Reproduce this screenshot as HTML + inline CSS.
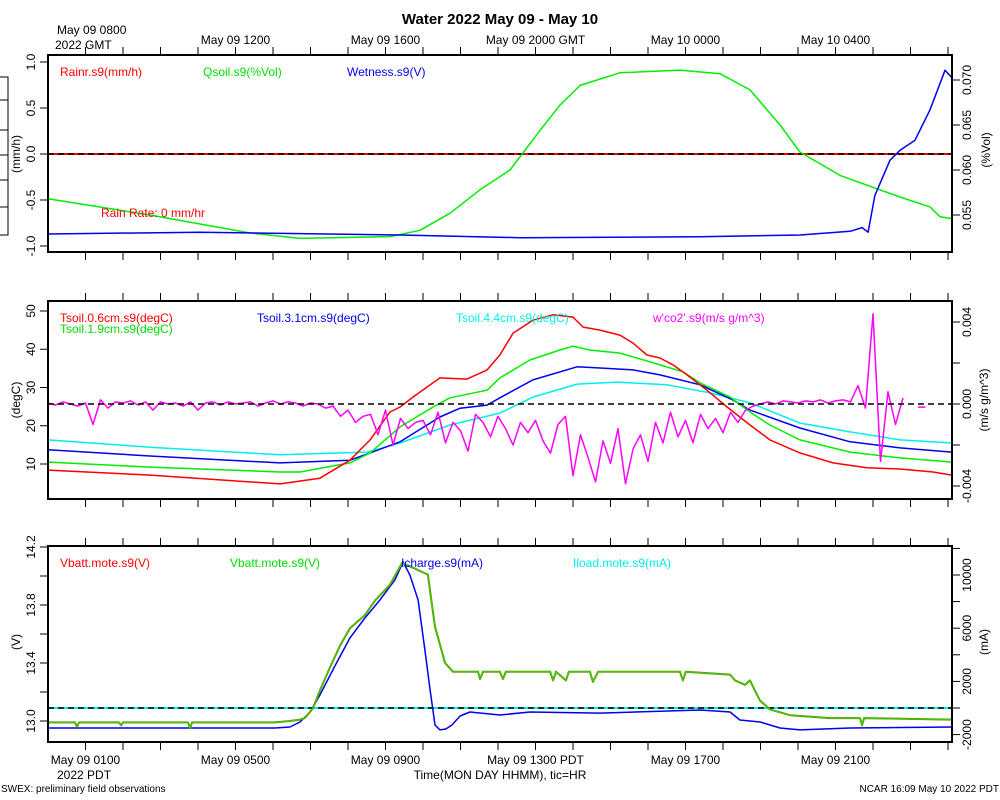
<!DOCTYPE html>
<html><head><meta charset="utf-8"><style>
body{margin:0;background:#fff;}
svg{display:block;font-family:"Liberation Sans",sans-serif;}
</style></head><body>
<svg id="chart" width="1000" height="800" viewBox="0 0 1000 800" xmlns="http://www.w3.org/2000/svg"></svg>
<script>
// ---- data (time in hours PDT since May 09 0000) ----
const qsoilT=[0,2.72,5.39,6.72,9.12,9.92,10.72,11.52,12.32,13.12,13.65,14.19,15.25,16.85,17.92,18.72,19.52,20.05,21.12,22.72,23.52,23.79,24.1];
const qsoilV=[0.0568,0.0550,0.0530,0.0524,0.0526,0.0533,0.0552,0.0578,0.0600,0.0644,0.0672,0.0694,0.0708,0.0711,0.0707,0.0689,0.0650,0.0620,0.0594,0.0570,0.0559,0.0548,0.0546];
const wetT=[0,4.05,9.39,12.59,17.39,20.05,21.39,21.71,21.87,22.05,22.45,22.72,23.12,23.52,23.92,24.1];
const wetV=[-0.87,-0.85,-0.88,-0.91,-0.90,-0.88,-0.84,-0.80,-0.85,-0.45,-0.07,0.04,0.15,0.48,0.91,0.83];
const rainT=[0,24.1];
const rainV=[0,0];

const ts06T=[0,2.72,6.19,7.25,8.05,8.59,9.12,9.39,9.73,10.45,11.17,11.71,12.05,12.4,12.93,13.47,14,14.27,14.72,15.25,15.6,15.97,16.32,16.67,17.04,17.57,18.11,18.72,19.25,20.05,20.93,21.84,22.72,23.6,24.1];
const ts06V=[8.4,7.1,4.8,6.3,11.0,16.3,23.6,24.9,27.5,32.5,32.2,34.6,38.5,44.2,47.6,49.0,48.4,45.8,45.0,43.7,41.6,38.5,37.7,35.9,33.3,29.3,24.9,20.2,16.3,12.9,10.3,9.0,8.7,7.9,7.1];
const ts19T=[0,2.72,6.19,6.72,8.05,8.59,9.39,10.27,10.72,11.71,12.05,12.85,13.65,14.0,14.45,15.25,15.6,16.32,16.93,17.39,18.19,18.72,19.25,20.05,21.39,22.72,24.1];
const ts19V=[10.5,9.2,7.9,7.9,10.3,12.9,19.7,24.9,27.3,29.3,32.5,37.2,39.8,40.8,39.8,39.0,38.0,35.9,34.1,31.2,27.5,23.6,20.2,16.3,13.1,11.6,10.5];
const ts31T=[0,2.72,6.19,8.05,8.59,9.39,10.45,10.99,11.71,12.05,12.93,14.11,14.72,15.6,16.32,17.39,18.27,18.72,20.05,21.39,22.72,24.1];
const ts31V=[13.7,12.1,10.3,11.0,12.9,15.8,22.3,24.6,25.4,27.3,32.0,35.4,35.1,34.6,33.3,30.7,26.7,24.1,19.4,15.8,14.2,13.1];
const ts44T=[0,2.72,6.19,8.51,9.39,10.72,12.05,12.93,14.11,15.17,16.51,17.65,18.72,20.05,21.39,22.72,24.1];
const ts44V=[16.3,14.4,12.4,13.1,15.5,20.2,23.3,27.5,30.9,31.4,30.7,28.6,26.0,20.7,18.4,16.3,15.5];
// w'co2' in units of 0.001 m/s g/m^3, sampled every 0.2 h
const wco2Step=0.2;
const wco2V=[0.05,-0.05,0.1,0.0,-0.1,0.05,-1.0,0.2,-0.2,0.1,0.05,0.15,-0.05,0.1,-0.3,0.1,0.0,0.05,-0.1,0.1,-0.3,0.05,0.1,-0.05,0.1,0.0,0.05,0.1,-0.1,0.05,0.15,0.0,0.1,0.05,-0.1,0.05,0.0,-0.2,-0.1,-0.6,
-0.3,-0.9,-0.6,-0.5,-1.5,-0.3,-2.0,-0.7,-1.2,-0.9,
-0.8,-1.5,-0.4,-1.9,-0.9,-1.3,-2.3,-0.5,-0.9,-1.6,
-0.6,-1.2,-2.0,-0.9,-1.4,-0.8,-1.8,-2.4,-1.0,-0.6,
-3.5,-1.5,-2.6,-3.8,-1.8,-2.9,-1.2,-3.9,-2.2,-1.5,
-2.8,-0.9,-1.9,-0.4,-1.6,-0.8,-1.9,-0.5,-1.2,-0.7,
-1.4,-0.4,-0.9,-0.3,-0.1,0.0,0.1,0.0,0.15,0.1,
0.05,0.15,0.1,0.2,0.05,0.15,0.2,0.1,0.9,-0.2,4.4,-2.8,0.6,-1.0,0.3,null,-0.15,-0.15];

const vbT=[0,0.72,0.77,0.83,1.89,1.95,2.0,3.73,3.79,3.84,6.05,6.45,6.72,6.85,7.07,7.25,7.52,7.79,8.05,8.45,8.72,9.12,9.44,9.79,10.13,10.24,10.32,10.59,10.8,11.47,11.52,11.6,12.05,12.13,12.21,13.39,13.47,13.55,13.81,13.89,14.45,14.53,14.67,16.85,16.93,17.01,18.19,18.32,18.59,18.72,18.85,18.99,19.25,19.79,20.85,21.65,21.71,21.76,24.1];
const vbV=[12.99,12.99,12.96,12.99,12.99,12.97,12.99,12.99,12.95,12.99,12.99,13.0,13.01,13.02,13.09,13.21,13.37,13.52,13.64,13.73,13.83,13.94,14.09,14.05,14.01,13.80,13.65,13.40,13.34,13.34,13.29,13.34,13.34,13.29,13.34,13.34,13.28,13.34,13.28,13.34,13.34,13.27,13.34,13.34,13.28,13.34,13.32,13.28,13.25,13.28,13.21,13.14,13.08,13.04,13.02,13.02,12.97,13.02,13.01];
const icT=[0,6.05,6.45,6.72,6.99,7.25,7.65,8.05,8.45,8.85,9.25,9.47,9.65,9.87,10.05,10.19,10.32,10.45,10.61,10.77,10.99,11.25,12.05,12.85,14.72,17.39,18.19,18.45,18.99,19.52,20.05,21.39,24.1];
const icV=[-1500,-1500,-1430,-1050,-300,980,3160,5260,6770,8120,9630,10980,10000,8120,4360,1350,-1280,-1650,-1580,-1280,-600,-300,-530,-300,-380,-150,-300,-900,-1050,-1500,-1650,-1500,-1430];
const ilT=[0,24.1];
const ilV=[0,0];

const topTickLabels=["May 09 1200","May 09 1600","May 09 2000 GMT","May 10 0000","May 10 0400"];
const botTickLabels=["May 09 0100","May 09 0500","May 09 0900","May 09 1300 PDT","May 09 1700","May 09 2100"];

// ---- scales ----
const X=h=>48+h*37.5;
const yRain=v=>154-v*92;
const yQs=v=>80+(0.070-v)*9000;
const yT=v=>464-(v-10)*3.825;
const yF=v=>404-v*20.5;
const yVb=v=>721-(v-13.0)*145;
const yI=v=>708-v*0.0133;

const NS="http://www.w3.org/2000/svg";
const svg=document.getElementById('chart');
function mk(tag,attrs,name,inter){
  const el=document.createElementNS(NS,tag);
  for(const k in attrs) el.setAttribute(k,attrs[k]);
  
  
  svg.appendChild(el);
  return el;
}
function txt(s,x,y,opts,name){
  const o=Object.assign({x:x,y:y,'font-size':12,fill:'#000'},opts||{});
  const el=mk('text',o,name,false);
  el.textContent=s;
  return el;
}
function vtxt(s,x,y,name,fs){
  const el=mk('text',{x:0,y:0,'font-size':fs||12,fill:'#000','text-anchor':'middle',transform:`translate(${x},${y}) rotate(-90)`},name,false);
  el.textContent=s;
  return el;
}
function series(ts,vs,yf,color,name,w){
  let d='',pen=false;
  for(let i=0;i<vs.length;i++){
    if(vs[i]===null){pen=false;continue;}
    d+=(pen?'L':'M')+X(ts[i]).toFixed(1)+','+yf(vs[i]).toFixed(1);
    pen=true;
  }
  return mk('path',{d:d,fill:'none',stroke:color,'stroke-width':w||1.5,'stroke-linejoin':'round'},name,false);
}

// title
txt("Water 2022 May 09 - May 10",500,24,{'font-size':15,'font-weight':'bold','text-anchor':'middle'},'chart-title');

// panels
const panels=[{t:55,b:252,n:'top'},{t:301,b:499,n:'middle'},{t:546,b:742,n:'bottom'}];
panels.forEach(p=>{
  for(let h=1;h<=24;h++){
    const x=X(h);
    mk('line',{x1:x,y1:p.t,x2:x,y2:p.t-8,stroke:'#000','stroke-width':1},p.n+'-top-tick',false);
    mk('line',{x1:x,y1:p.b,x2:x,y2:p.b+8,stroke:'#000','stroke-width':1},p.n+'-bottom-tick',false);
  }
});

// left clipped legend frame
mk('path',{d:'M0,77H8V235H0',fill:'none',stroke:'#000','stroke-width':1},'clipped-frame',false);
[100,130,155,180,207].forEach(y=>{
  mk('line',{x1:0,y1:y,x2:8,y2:y,stroke:'#000','stroke-width':1},'clipped-frame-tick',false);
});

// ---- top panel ----
function yTicks(vals,yf,side,labels,name){
  vals.forEach((v,i)=>{
    const y=yf(v);
    if(side==='L') mk('line',{x1:48,y1:y,x2:40,y2:y,stroke:'#000'},name+'-tick',false);
    else mk('line',{x1:952,y1:y,x2:960,y2:y,stroke:'#000'},name+'-tick',false);
    if(labels[i]!==null){
      vtxt(labels[i], side==='L'?35:971, y, name+'-label');
    }
  });
}
yTicks([1,0.5,0,-0.5,-1],yRain,'L',["1.0","0.5","0.0","-0.5","-1.0"],'rain-axis');
yTicks([0.070,0.065,0.060,0.055],yQs,'R',["0.070","0.065","0.060","0.055"],'qsoil-axis');
vtxt("(mm/h)",20,154,'rain-axis-title');
vtxt("(%Vol)",990,150,'qsoil-axis-title');
series(rainT,rainV,yRain,'#ff0000','rainr-line',2);
mk('line',{x1:48,y1:154,x2:952,y2:154,stroke:'#000','stroke-width':1.5,'stroke-dasharray':'6,4'},'top-zero-line',false);
series(qsoilT,qsoilV,yQs,'#00ee00','qsoil-line');
series(wetT,wetV,yRain,'#0000ee','wetness-line');
txt("Rainr.s9(mm/h)",60,76,{fill:'#ff0000'},'legend-rainr');
txt("Qsoil.s9(%Vol)",203,76,{fill:'#00dd00'},'legend-qsoil');
txt("Wetness.s9(V)",347,76,{fill:'#0000ee'},'legend-wetness');
txt("Rain Rate: 0 mm/hr",101,217,{fill:'#ff0000'},'rain-rate-note');

// top time labels
txt("May 09 0800",57,34,{},'top-start-label');
txt("2022 GMT",55,49,{},'top-year-label');
topTickLabels.forEach((s,i)=>{ txt(s,X(5+4*i),44,{'text-anchor':'middle'},'top-time-label'); });

// ---- middle panel ----
yTicks([50,40,30,20,10],yT,'L',["50","40","30","20","10"],'temp-axis');
yTicks([4,2,0,-2,-4],yF,'R',["0.004",null,"0.000",null,"-0.004"],'flux-axis');
vtxt("(degC)",20,400,'temp-axis-title');
vtxt("(m/s g/m^3)",988,400,'flux-axis-title');
series(ts44T,ts44V,yT,'#00eeee','tsoil44-line');
series(ts31T,ts31V,yT,'#0000ee','tsoil31-line');
series(ts19T,ts19V,yT,'#00ee00','tsoil19-line');
series(ts06T,ts06V,yT,'#ff0000','tsoil06-line');
const wT=wco2V.map((v,i)=>i*wco2Step);
series(wT,wco2V,yF,'#ff00ff','wco2-line');
mk('line',{x1:48,y1:404,x2:952,y2:404,stroke:'#000','stroke-width':1.5,'stroke-dasharray':'6,4'},'middle-zero-line',false);
txt("Tsoil.0.6cm.s9(degC)",60,322,{fill:'#ff0000'},'legend-tsoil06');
txt("Tsoil.1.9cm.s9(degC)",60,333,{fill:'#00dd00'},'legend-tsoil19');
txt("Tsoil.3.1cm.s9(degC)",257,322,{fill:'#0000ee'},'legend-tsoil31');
txt("Tsoil.4.4cm.s9(degC)",456,322,{fill:'#00eeee'},'legend-tsoil44');
txt("w'co2'.s9(m/s g/m^3)",653,322,{fill:'#ff00ff'},'legend-wco2');

// ---- bottom panel ----
const vTicks=[14.2,14.1,14.0,13.9,13.8,13.7,13.6,13.5,13.4,13.3,13.2,13.1,13.0];
const vLab=["14.2",null,null,null,"13.8",null,null,null,"13.4",null,null,null,"13.0"];
vTicks.forEach((v,i)=>{ if(i%2===0||vLab[i]) {} });
yTicks([14.2,14.0,13.8,13.6,13.4,13.2,13.0],yVb,'L',["14.2",null,"13.8",null,"13.4",null,"13.0"],'volt-axis');
yTicks([12000,10000,8000,6000,4000,2000,0,-2000],yI,'R',[null,"10000",null,"6000",null,"2000",null,"-2000"],'current-axis');
vtxt("(V)",20,642,'volt-axis-title');
vtxt("(mA)",988,642,'current-axis-title');
series(ilT,ilV,yI,'#00eeee','iload-line',2);
mk('line',{x1:48,y1:708,x2:952,y2:708,stroke:'#000','stroke-width':1.5,'stroke-dasharray':'6,4'},'bottom-zero-line',false);
series(icT,icV,yI,'#0000ee','icharge-line');
series(vbT,vbV,yVb,'#aa5500','vbatt-red-line',2);
series(vbT,vbV,yVb,'#33cc00','vbatt-green-line',1.5);
txt("Vbatt.mote.s9(V)",60,567,{fill:'#ff0000'},'legend-vbatt-red');
txt("Vbatt.mote.s9(V)",230,567,{fill:'#00dd00'},'legend-vbatt-green');
txt("Icharge.s9(mA)",401,567,{fill:'#0000ee'},'legend-icharge');
txt("Iload.mote.s9(mA)",573,567,{fill:'#00eeee'},'legend-iload');

// bottom time labels
botTickLabels.forEach((s,i)=>{ txt(s,X(1+4*i),764,{'text-anchor':'middle'},'bottom-time-label'); });
txt("2022 PDT",57,779,{},'bottom-year-label');
txt("Time(MON DAY HHMM), tic=HR",500,779,{'text-anchor':'middle'},'x-axis-title');
txt("SWEX: preliminary field observations",1,792,{'font-size':10},'footer-left');
txt("NCAR 16:09 May 10 2022 PDT",999,792,{'font-size':10,'text-anchor':'end'},'footer-right');

// frames on top
panels.forEach(p=>{
  mk('rect',{x:48,y:p.t,width:904,height:p.b-p.t,fill:'none',stroke:'#000','stroke-width':2},p.n+'-panel-frame',false);
});
</script>
</body></html>
